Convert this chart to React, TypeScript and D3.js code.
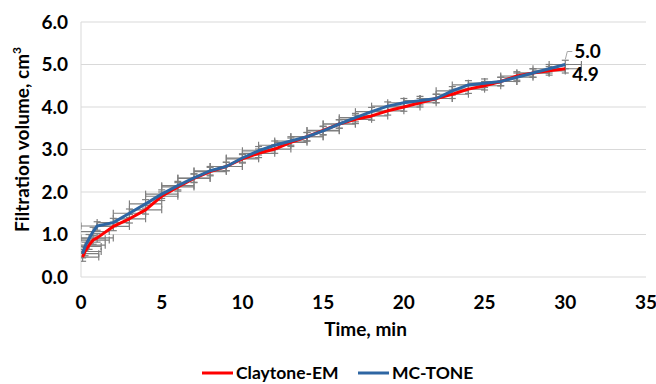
import React, { useEffect, useRef } from 'react'
import * as d3 from 'd3'

// time points (min)
const times = [0.1, 0.25, 0.5, 0.75, 1, 2, 3, 4, 5, 6, 7, 8, 9, 10, 11, 12, 13, 14, 15, 16, 17, 18, 19, 20, 21, 22, 23, 24, 25, 26, 27, 28, 29, 30]
const claytone = [0.47, 0.6, 0.75, 0.87, 0.92, 1.19, 1.37, 1.58, 1.9, 2.12, 2.32, 2.48, 2.6, 2.78, 2.91, 3.01, 3.17, 3.3, 3.45, 3.6, 3.71, 3.79, 3.91, 4.0, 4.1, 4.2, 4.3, 4.42, 4.5, 4.6, 4.73, 4.8, 4.85, 4.9]
const mcTone = [0.55, 0.72, 0.9, 1.07, 1.2, 1.28, 1.5, 1.72, 1.95, 2.15, 2.33, 2.5, 2.6, 2.8, 2.97, 3.1, 3.2, 3.3, 3.44, 3.6, 3.75, 3.89, 4.02, 4.1, 4.15, 4.2, 4.38, 4.52, 4.56, 4.6, 4.7, 4.8, 4.9, 5.0]
const xErr = 1
const yErr = 0.1
const xTicks = [0, 5, 10, 15, 20, 25, 30, 35]
const yTicks = [0, 1, 2, 3, 4, 5, 6]

const seriesList = [
  { name: 'Claytone-EM', values: claytone, color: '#ff0000' },
  { name: 'MC-TONE', values: mcTone, color: '#2e66a3' },
]

const FONT = 'Lato, "Open Sans", sans-serif'
const FS = 19

export default function App() {
  const svgRef = useRef<SVGSVGElement>(null)

  useEffect(() => {
    if (!svgRef.current) return
    const svg = d3.select(svgRef.current)
    svg.selectAll('*').remove()

    const width = 656
    const height = 384
    const margin = { top: 22, right: 10, bottom: 107, left: 81 }
    const innerWidth = width - margin.left - margin.right
    const innerHeight = height - margin.top - margin.bottom

    const x = d3.scaleLinear().domain([0, 35]).range([0, innerWidth])
    const y = d3.scaleLinear().domain([0, 6]).range([innerHeight, 0])

    svg.append('defs')
      .append('clipPath')
      .attr('id', 'plot-clip')
      .append('rect')
      .attr('width', innerWidth)
      .attr('height', innerHeight)

    const g = svg.append('g').attr('transform', `translate(${margin.left},${margin.top})`)

    // gridlines
    g.selectAll('.grid')
      .data(yTicks.filter((d) => d > 0))
      .join('line')
      .attr('x1', 0)
      .attr('x2', innerWidth)
      .attr('y1', (d) => y(d))
      .attr('y2', (d) => y(d))
      .attr('stroke', '#d9d9d9')
      .attr('stroke-width', 1)

    // axis lines
    g.append('line')
      .attr('x1', 0).attr('x2', innerWidth)
      .attr('y1', innerHeight).attr('y2', innerHeight)
      .attr('stroke', '#d9d9d9')
    g.append('line')
      .attr('x1', 0).attr('x2', 0)
      .attr('y1', 0).attr('y2', innerHeight)
      .attr('stroke', '#d9d9d9')

    // tick labels
    g.selectAll('.ytick')
      .data(yTicks)
      .join('text')
      .attr('x', -13)
      .attr('y', (d) => y(d))
      .attr('dy', '0.35em')
      .attr('text-anchor', 'end')
      .attr('font-family', FONT)
      .attr('font-weight', 700)
      .attr('font-size', FS)
      .attr('fill', '#000')
      .text((d) => d3.format('.1f')(d))

    g.selectAll('.xtick')
      .data(xTicks)
      .join('text')
      .attr('x', (d) => x(d))
      .attr('y', innerHeight + 25)
      .attr('dy', '0.35em')
      .attr('text-anchor', 'middle')
      .attr('font-family', FONT)
      .attr('font-weight', 700)
      .attr('font-size', FS)
      .attr('fill', '#000')
      .text((d) => d)

    // axis titles
    g.append('text')
      .attr('x', innerWidth / 2 + 2)
      .attr('y', innerHeight + 52)
      .attr('dy', '0.35em')
      .attr('text-anchor', 'middle')
      .attr('font-family', FONT)
      .attr('font-weight', 700)
      .attr('font-size', FS)
      .text('Time, min')

    const yTitle = g.append('text')
      .attr('transform', `translate(${-59},${innerHeight / 2 - 10}) rotate(-90)`)
      .attr('dy', '0.35em')
      .attr('text-anchor', 'middle')
      .attr('font-family', FONT)
      .attr('font-weight', 700)
      .attr('font-size', FS)
    yTitle.append('tspan').text('Filtration volume, cm')
    yTitle.append('tspan').attr('font-size', 12).attr('dy', '-0.6em').text('3')

    // error bars
    const bars = g.append('g').attr('clip-path', 'url(#plot-clip)')
    const cap = 3.5
    seriesList.forEach((s) => {
      times.forEach((t, i) => {
        const v = s.values[i]
        const cx = x(t)
        const cy = y(v)
        const x0 = x(t - xErr)
        const x1 = x(t + xErr)
        const y0 = y(v - yErr)
        const y1 = y(v + yErr)
        const eb = bars.append('g')
          .attr('stroke', '#7f7f7f')
          .attr('stroke-width', 1.2)
          .attr('fill', 'none')
        eb.append('line').attr('x1', x0).attr('x2', x1).attr('y1', cy).attr('y2', cy)
        eb.append('line').attr('x1', x0).attr('x2', x0).attr('y1', cy - cap).attr('y2', cy + cap)
        eb.append('line').attr('x1', x1).attr('x2', x1).attr('y1', cy - cap).attr('y2', cy + cap)
        eb.append('line').attr('x1', cx).attr('x2', cx).attr('y1', y0).attr('y2', y1)
        eb.append('line').attr('x1', cx - cap).attr('x2', cx + cap).attr('y1', y0).attr('y2', y0)
        eb.append('line').attr('x1', cx - cap).attr('x2', cx + cap).attr('y1', y1).attr('y2', y1)
      })
    })

    // lines
    const line = d3
      .line<number>()
      .x((d, i) => x(times[i]))
      .y((d) => y(d))

    seriesList.forEach((s) => {
      g.append('path')
        .datum(s.values)
        .attr('fill', 'none')
        .attr('stroke', s.color)
        .attr('stroke-width', 3)
        .attr('stroke-linejoin', 'round')
        .attr('d', line)
    })

    // end labels
    const last = times.length - 1
    const lx = x(times[last])
    const blueY = y(mcTone[last])
    g.append('path')
      .attr('d', `M${lx},${blueY - 5} L${lx + 2},${blueY - 13} L${lx + 7},${blueY - 13}`)
      .attr('fill', 'none')
      .attr('stroke', '#a6a6a6')
      .attr('stroke-width', 1)
    g.append('text')
      .attr('x', lx + 9)
      .attr('y', blueY - 13)
      .attr('dy', '0.35em')
      .attr('font-family', FONT)
      .attr('font-weight', 700)
      .attr('font-size', FS)
      .text(d3.format('.1f')(mcTone[last]))
    g.append('text')
      .attr('x', lx + 7)
      .attr('y', y(claytone[last]) + 6)
      .attr('dy', '0.35em')
      .attr('font-family', FONT)
      .attr('font-weight', 700)
      .attr('font-size', FS)
      .text(d3.format('.1f')(claytone[last]))

    // legend
    const legend = svg.append('g').attr('transform', `translate(202, 373)`)
    const legendX = [0, 156]
    seriesList.forEach((s, i) => {
      const lg = legend.append('g').attr('transform', `translate(${legendX[i]},0)`)
      lg.append('line')
        .attr('x1', 0).attr('x2', 31)
        .attr('y1', 0).attr('y2', 0)
        .attr('stroke', s.color)
        .attr('stroke-width', 3)
      lg.append('text')
        .attr('x', 34)
        .attr('y', 0)
        .attr('dy', '0.35em')
        .attr('font-family', FONT)
        .attr('font-weight', 700)
        .attr('font-size', 17.5)
        .text(s.name)
    })
  }, [])

  return (
    <svg
      ref={svgRef}
      width={656}
      height={384}
      style={{ position: 'absolute', left: 0, top: 0, background: '#fff' }}
    />
  )
}
